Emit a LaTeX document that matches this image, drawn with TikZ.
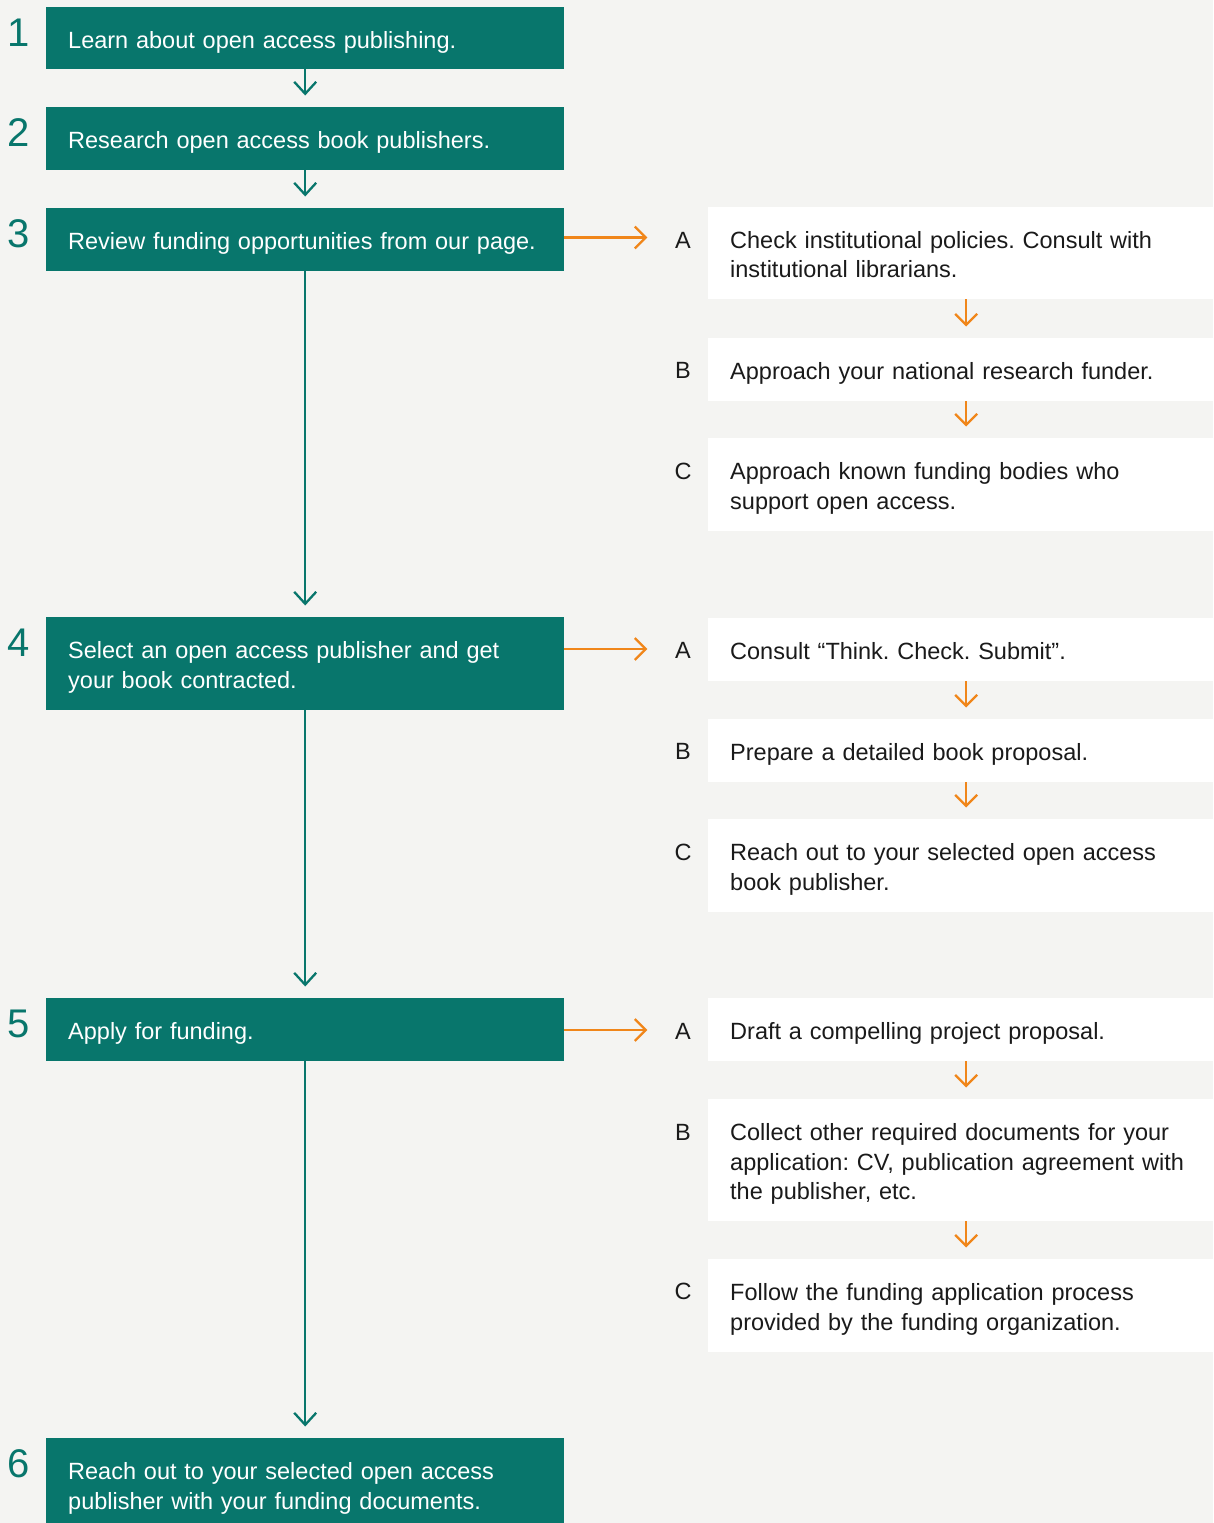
\documentclass[tikz,border=0pt]{standalone}
\usepackage{fontspec}
\setmainfont{Liberation Sans}
\usetikzlibrary{arrows.meta}
\frenchspacing
\definecolor{bgc}{RGB}{244,244,242}
\definecolor{oagreen}{RGB}{8,118,108}
\definecolor{oaorange}{RGB}{240,134,26}
\definecolor{ink}{RGB}{26,26,26}
\newcommand{\tstrut}{\rule{0pt}{25.4pt}}
\newcommand{\bstrut}{\rule[-5.6pt]{0pt}{5.6pt}}
\tikzset{
  bodyfont/.style={font=\fontsize{23.5}{29.5}\selectfont\frenchspacing},
  gbox/.style={fill=oagreen, text=white, anchor=north west, text width=474pt,
    inner xsep=22pt, inner ysep=0pt, align=left, bodyfont},
  wbox/.style={fill=white, text=ink, anchor=north west, text width=472pt,
    inner xsep=22pt, inner ysep=0pt, align=left, bodyfont},
  numlab/.style={text=oagreen, anchor=base west, inner sep=0pt,
    font=\fontsize{40}{40}\selectfont},
  letlab/.style={text=ink, anchor=center, inner sep=0pt, bodyfont},
  garrow/.style={draw=oagreen, line width=2.3pt,
    -{Straight Barb[length=12pt,width=22pt]}, shorten >=11.5pt},
  oarrow/.style={draw=oaorange, line width=2.3pt,
    -{Straight Barb[length=11pt,width=22pt]}},
}
\begin{document}
\begin{tikzpicture}[x=1pt,y=-1pt]
\useasboundingbox (0,0) rectangle (1213,1523);
\fill[bgc] (0,0) rectangle (1213,1523);

% main steps
\node[gbox, minimum height=62pt] (b1) at (46,7) {\tstrut Learn about open access publishing.\bstrut};
\node[gbox, minimum height=63pt] (b2) at (46,107) {\tstrut Research open access book publishers.\bstrut};
\node[gbox, minimum height=63pt] (b3) at (46,208) {\tstrut Review funding opportunities from our page.\bstrut};
\node[gbox, minimum height=93pt] (b4) at (46,617) {\tstrut Select an open access publisher and get\\your book contracted.\bstrut};
\node[gbox, minimum height=63pt] (b5) at (46,998) {\tstrut Apply for funding.\bstrut};
\node[gbox, minimum height=93pt] (b6) at (46,1438) {\tstrut Reach out to your selected open access\\publisher with your funding documents.\bstrut};

% numbers
\node[numlab] (n1) at ([xshift=-39pt,yshift=-39pt]b1.north west) {1};
\node[numlab] (n2) at ([xshift=-39pt,yshift=-39.5pt]b2.north west) {2};
\node[numlab] (n3) at ([xshift=-39pt,yshift=-39.5pt]b3.north west) {3};
\node[numlab] (n4) at ([xshift=-39pt,yshift=-39.5pt]b4.north west) {4};
\node[numlab] (n5) at ([xshift=-39pt,yshift=-39.5pt]b5.north west) {5};
\node[numlab] (n6) at ([xshift=-39pt,yshift=-39.5pt]b6.north west) {6};

% sub-steps of step 3
\node[wbox, minimum height=92pt] (w3a) at (708,207) {\tstrut Check institutional policies. Consult with\\institutional librarians.\bstrut};
\node[wbox, minimum height=63pt] (w3b) at (708,338) {\tstrut Approach your national research funder.\bstrut};
\node[wbox, minimum height=93pt] (w3c) at (708,438) {\tstrut Approach known funding bodies who\\support open access.\bstrut};
% sub-steps of step 4
\node[wbox, minimum height=63pt] (w4a) at (708,618) {\tstrut Consult “Think. Check. Submit”.\bstrut};
\node[wbox, minimum height=63pt] (w4b) at (708,719) {\tstrut Prepare a detailed book proposal.\bstrut};
\node[wbox, minimum height=93pt] (w4c) at (708,819) {\tstrut Reach out to your selected open access\\book publisher.\bstrut};
% sub-steps of step 5
\node[wbox, minimum height=63pt] (w5a) at (708,998) {\tstrut Draft a compelling project proposal.\bstrut};
\node[wbox, minimum height=122pt] (w5b) at (708,1099) {\tstrut Collect other required documents for your\\application: CV, publication agreement with\\the publisher, etc.\bstrut};
\node[wbox, minimum height=93pt] (w5c) at (708,1259) {\tstrut Follow the funding application process\\provided by the funding organization.\bstrut};

% letters
\node[letlab] (l3a) at ([xshift=-25pt,yshift=-33pt]w3a.north west) {A};
\node[letlab] (l3b) at ([xshift=-25pt,yshift=-32pt]w3b.north west) {B};
\node[letlab] (l3c) at ([xshift=-25pt,yshift=-33pt]w3c.north west) {C};
\node[letlab] (l4a) at ([xshift=-25pt,yshift=-32pt]w4a.north west) {A};
\node[letlab] (l4b) at ([xshift=-25pt,yshift=-32pt]w4b.north west) {B};
\node[letlab] (l4c) at ([xshift=-25pt,yshift=-33pt]w4c.north west) {C};
\node[letlab] (l5a) at ([xshift=-25pt,yshift=-33pt]w5a.north west) {A};
\node[letlab] (l5b) at ([xshift=-25pt,yshift=-33pt]w5b.north west) {B};
\node[letlab] (l5c) at ([xshift=-25pt,yshift=-32pt]w5c.north west) {C};

% green connectors
\draw[garrow] (b1) -- (b2);
\draw[garrow] (b2) -- (b3);
\draw[garrow] (b3) -- (b4);
\draw[garrow] (b4) -- (b5);
\draw[garrow] (b5) -- (b6);

% orange connectors
\draw[oarrow, shorten >=27.5pt, transform canvas={yshift=2.5pt}] (l3a -| b3.east) -- (l3a.west);
\draw[oarrow, shorten >=27.5pt, transform canvas={yshift=1pt}] (l4a -| b4.east) -- (l4a.west);
\draw[oarrow, shorten >=27.5pt, transform canvas={yshift=1pt}] (l5a -| b5.east) -- (l5a.west);
\draw[oarrow, shorten >=11.5pt] (w3a) -- (w3b);
\draw[oarrow, shorten >=11.5pt] (w3b) -- (w3c);
\draw[oarrow, shorten >=11.5pt] (w4a) -- (w4b);
\draw[oarrow, shorten >=11.5pt] (w4b) -- (w4c);
\draw[oarrow, shorten >=11.5pt] (w5a) -- (w5b);
\draw[oarrow, shorten >=11.5pt] (w5b) -- (w5c);
\end{tikzpicture}
\end{document}
